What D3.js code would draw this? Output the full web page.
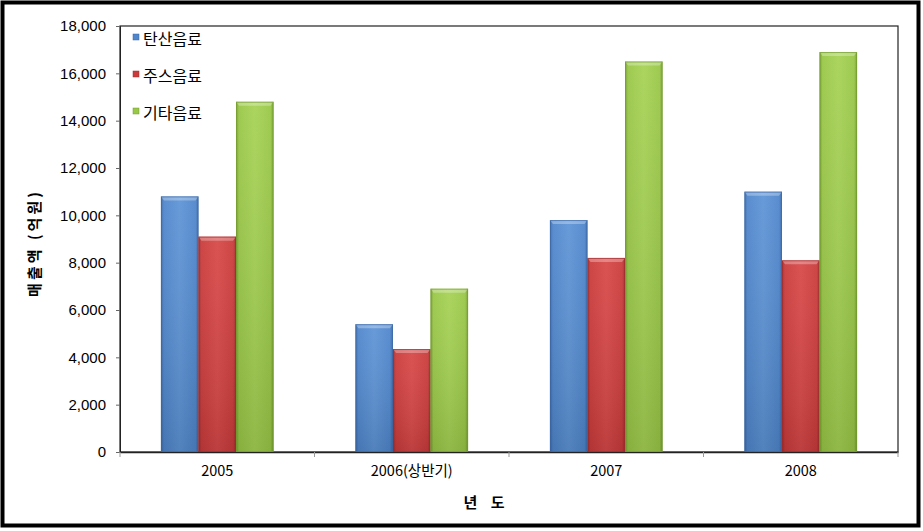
<!DOCTYPE html>
<html><head><meta charset="utf-8">
<script src="https://cdn.jsdelivr.net/npm/d3@7"></script>
<style>
body{margin:0;background:#fff;}
text{font-family:"Liberation Sans","Noto Sans CJK KR",Arial,sans-serif;}
.kr{font-family:"Noto Sans CJK KR","Liberation Sans",sans-serif;}
</style></head>
<body><svg id="c" width="923" height="531"></svg>
<script>
const categories = ["2005", "2006(상반기)", "2007", "2008"];
const seriesNames = ["탄산음료", "주스음료", "기타음료"];
const soda  = [10800, 5400, 9800, 11000];
const juice = [9100, 4350, 8200, 8100];
const other = [14800, 6900, 16500, 16900];
const yTicks = [0, 2000, 4000, 6000, 8000, 10000, 12000, 14000, 16000, 18000];
const yTitle = "매출액 (억원)";
const xTitle = "년\u00a0\u00a0\u00a0\u00a0도";

const seriesValues = [soda, juice, other];
const colors = [
  {base:"#4F86CC", light:"#5E94D6", dark:"#3A68A6"},
  {base:"#CB3B3B", light:"#D84848", dark:"#A02C2C"},
  {base:"#99C747", light:"#A5D254", dark:"#739C2E"}
];

const svg = d3.select("#c");
const W = 923, H = 531;
svg.append("rect").attr("x",2.5).attr("y",2.5).attr("width",W-7).attr("height",H-8)
  .attr("fill","#fff").attr("stroke","#000").attr("stroke-width",4);

const m = {left:120, right:898, top:26, bottom:452};
const x = d3.scaleBand().domain(categories).range([m.left, m.right]).paddingInner(0).paddingOuter(0);
const inner = d3.scaleBand().domain(d3.range(3)).range([0, x.bandwidth()]).paddingOuter(1.09).paddingInner(0);
const y = d3.scaleLinear().domain([0, 18000]).range([m.bottom, m.top]);

const defs = svg.append("defs");
colors.forEach((c,i)=>{
  const g = defs.append("linearGradient").attr("id","g"+i).attr("x1","0").attr("x2","1").attr("y1","0").attr("y2","0");
  g.append("stop").attr("offset","0").attr("stop-color",c.dark);
  g.append("stop").attr("offset","0.08").attr("stop-color",c.base);
  g.append("stop").attr("offset","0.5").attr("stop-color",c.light);
  g.append("stop").attr("offset","0.92").attr("stop-color",c.base);
  g.append("stop").attr("offset","1").attr("stop-color",c.dark);
  const v = defs.append("linearGradient").attr("id","v"+i).attr("x1","0").attr("x2","0").attr("y1","0").attr("y2","1");
  v.append("stop").attr("offset","0").attr("stop-color","#fff").attr("stop-opacity",0.06);
  v.append("stop").attr("offset","1").attr("stop-color","#000").attr("stop-opacity",0.12);
});

// plot frame
svg.append("rect").attr("x",m.left).attr("y",m.top).attr("width",m.right-m.left).attr("height",m.bottom-m.top)
  .attr("fill","none").attr("stroke","#222").attr("stroke-width",1.2);

// y axis
const yAxis = d3.axisLeft(y).tickValues(yTicks).tickSize(4).tickFormat(d3.format(","));
const ya = svg.append("g").attr("transform",`translate(${m.left},0)`).call(yAxis);
ya.select(".domain").attr("stroke","#222");
ya.selectAll(".tick line").attr("stroke","#666");
ya.selectAll("text").attr("font-size",15).attr("fill","#000").attr("x",-14);

// x axis
const xa = svg.append("g").attr("transform",`translate(0,${m.bottom})`)
  .call(d3.axisBottom(x).tickSize(0).tickPadding(14));
xa.select(".domain").attr("stroke","#222").attr("stroke-width",1.5);
xa.selectAll("text").attr("font-size",14.5).attr("fill","#000").attr("class","kr");
svg.append("g").selectAll("line").data(d3.range(categories.length+1)).join("line")
  .attr("x1",i=> m.left + i*x.step()).attr("x2",i=> m.left + i*x.step())
  .attr("y1",m.bottom).attr("y2",m.bottom+5).attr("stroke","#999");

// bars
seriesValues.forEach((vals,si)=>{
  const g = svg.append("g");
  vals.forEach((v,ci)=>{
    const bx = x(categories[ci]) + inner(si);
    const bw = inner.bandwidth();
    const by = y(v), bh = y(0)-y(v);
    g.append("rect").attr("x",bx).attr("y",by).attr("width",bw).attr("height",bh).attr("fill",`url(#g${si})`);
    g.append("rect").attr("x",bx).attr("y",by).attr("width",bw).attr("height",bh).attr("fill",`url(#v${si})`);
    g.append("path").attr("d",`M${bx},${by}L${bx+bw},${by}L${bx+bw-3},${by+4}L${bx+3},${by+4}Z`)
      .attr("fill","#fff").attr("opacity",0.3);
    g.append("rect").attr("x",bx+0.5).attr("y",by+0.5).attr("width",bw-1).attr("height",bh-1)
      .attr("fill","none").attr("stroke",colors[si].dark).attr("stroke-width",1).attr("opacity",0.7);
  });
});

// legend
const lg = svg.append("g");
seriesNames.forEach((n,i)=>{
  const ly = 39 + i*37;
  lg.append("rect").attr("x",133).attr("y",ly-5).attr("width",6).attr("height",6).attr("fill",colors[i].base)
    .attr("stroke",colors[i].dark).attr("stroke-width",0.5);
  lg.append("text").attr("class","kr").attr("x",143).attr("y",ly).attr("dy","0.35em")
    .attr("font-size",16).attr("fill","#000").text(n);
});

// axis titles
svg.append("text").attr("class","kr").attr("transform",`translate(35,${243}) rotate(-90)`)
  .attr("text-anchor","middle").attr("dy","0.35em").attr("font-size",15).attr("font-weight","bold")
  .attr("letter-spacing",3).attr("fill","#000").text(yTitle);
svg.append("text").attr("class","kr").attr("x",484).attr("y",503).attr("text-anchor","middle")
  .attr("dy","0.35em").attr("font-size",15).attr("font-weight","bold").attr("fill","#000").text(xTitle);
</script></body></html>
